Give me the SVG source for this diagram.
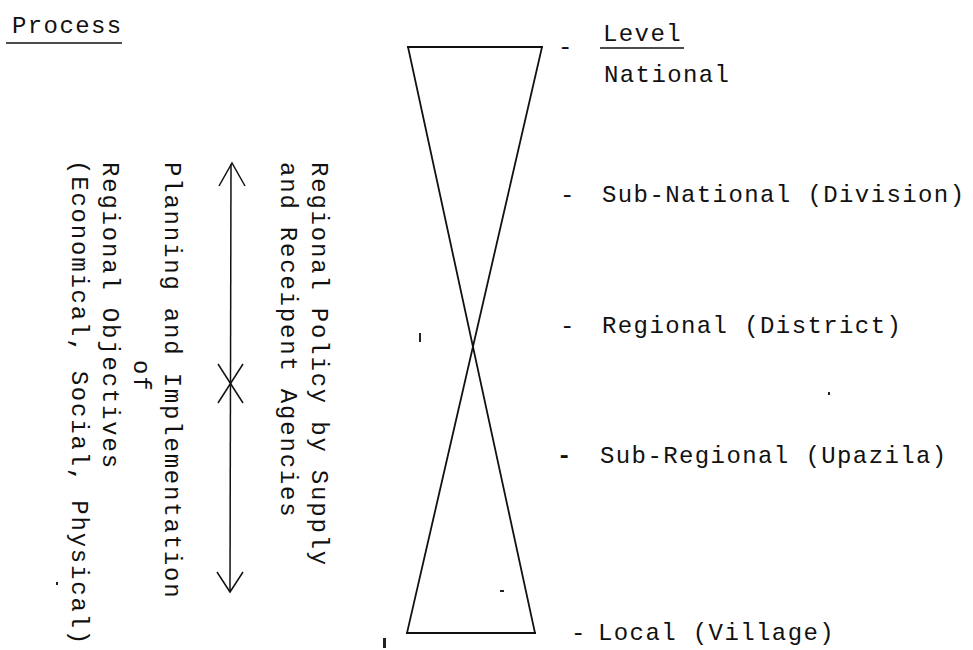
<svg xmlns="http://www.w3.org/2000/svg" width="973" height="650" viewBox="0 0 973 650">
<style>
  .t { font-family: "Liberation Mono", "DejaVu Sans Mono", monospace; font-size: 24px; letter-spacing: 1.4px; fill: #111; }
  .v { letter-spacing: 1.8px; }
  .ln { stroke: #111; stroke-width: 1.8; fill: none; stroke-linecap: square; }
  .thin { stroke: #111; stroke-width: 1.5; fill: none; }
  .speck { fill: #222; }
</style>
<rect width="973" height="650" fill="#fff"/>

<g id="process-title">
  <text class="t" x="12" y="33">Process</text>
  <line class="thin" x1="6" y1="43" x2="122" y2="43"/>
</g>

<g id="hourglass">
  <line class="ln" x1="408" y1="47" x2="542" y2="47"/>
  <line class="ln" x1="407" y1="633" x2="535" y2="633"/>
  <line class="ln" x1="408" y1="47" x2="535" y2="633"/>
  <line class="ln" x1="542" y1="47" x2="407" y2="633"/>
</g>

<g id="level-header">
  <text class="t" x="558" y="54">-</text>
  <text class="t" x="603" y="41">Level</text>
  <line class="thin" x1="600" y1="48" x2="684" y2="48"/>
  <text class="t" x="604" y="82">National</text>
</g>

<g id="sub-national">
  <text class="t" x="560" y="202">-</text>
  <text class="t" x="602" y="202">Sub-National (Division)</text>
</g>

<g id="regional">
  <text class="t" x="560" y="333">-</text>
  <text class="t" x="602" y="333">Regional (District)</text>
</g>

<g id="sub-regional">
  <text class="t" x="557" y="463" font-weight="bold">-</text>
  <text class="t" x="600" y="463">Sub-Regional (Upazila)</text>
</g>

<g id="local">
  <text class="t" x="571" y="640">-</text>
  <text class="t" x="598" y="640">Local (Village)</text>
</g>

<g id="connectors">
  <line class="thin" x1="231" y1="164" x2="230" y2="591"/>
  <polyline class="thin" points="219,186 232,163 245,186"/>
  <polyline class="thin" points="217,572 230,592 243,572"/>
  <line class="thin" x1="218" y1="364" x2="243" y2="403"/>
  <line class="thin" x1="243" y1="364" x2="218" y2="403"/>
</g>

<g id="supply-agencies">
  <text class="t v" transform="translate(312,162) rotate(90)">Regional Policy by Supply</text>
  <text class="t v" transform="translate(281,162) rotate(90)">and Receipent Agencies</text>
</g>

<g id="planning-objectives">
  <text class="t v" transform="translate(165,162) rotate(90)">Planning and Implementation</text>
  <text class="t v" transform="translate(134,360) rotate(90)">of</text>
  <text class="t v" transform="translate(103,162) rotate(90)">Regional Objectives</text>
  <text class="t v" transform="translate(72,160) rotate(90)">(Economical, Social, Physical)</text>
</g>

<g id="specks">
  <rect class="speck" x="419" y="333" width="2" height="9"/>
  <rect class="speck" x="500" y="590" width="4" height="2"/>
  <rect class="speck" x="383" y="638" width="3" height="10"/>
  <rect class="speck" x="828" y="392" width="2" height="3"/>
  <rect class="speck" x="56" y="582" width="2" height="3"/>
</g>
</svg>
